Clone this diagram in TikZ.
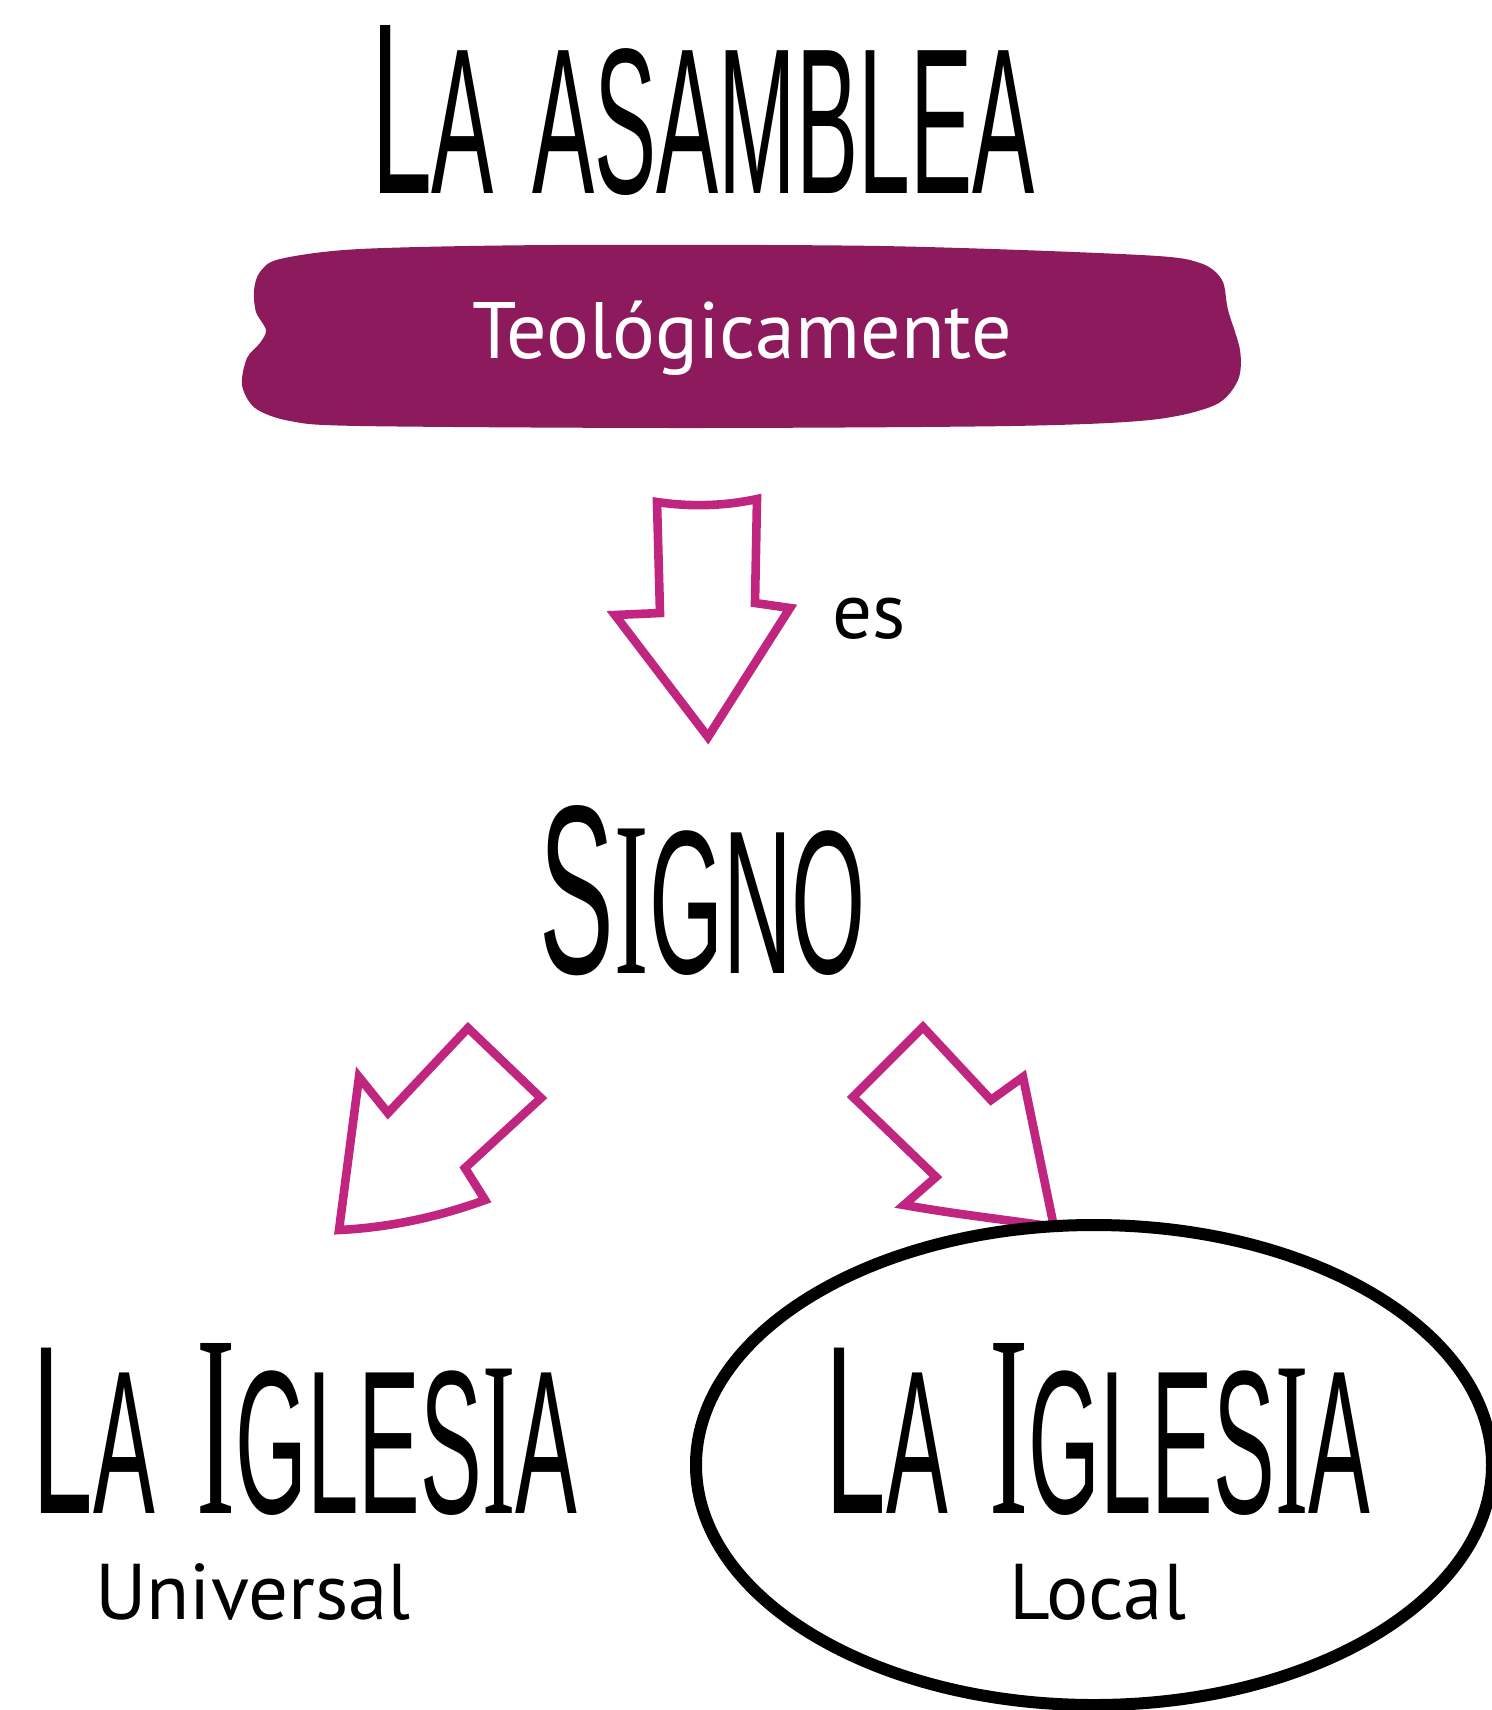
\documentclass[tikz,border=0pt]{standalone}
\usepackage{fontspec}
\setmainfont{PT Sans}
\newfontfamily\handfont{Liberation Sans}
\newfontfamily\handserif{Liberation Serif}
\usepackage{xcolor}
\usepackage{graphicx}
\usetikzlibrary{positioning}
\definecolor{banner}{HTML}{8C1A5C}
\definecolor{arrowpink}{HTML}{C0267F}
\newcommand{\handcaps}[2]{{\fontsize{40}{40}\selectfont #1}{\fontsize{34}{34}\selectfont #2}}
\newcommand{\bigI}{{\handserif\fontsize{43.2}{43.2}\selectfont I}}
\newcommand{\smallI}{{\handserif\fontsize{36.7}{36.7}\selectfont I}}

\begin{document}
\begin{tikzpicture}[
  x=0.5pt, y=-0.5pt,
  hand/.style={inner sep=0pt, font=\handfont},
  sub/.style={inner sep=0pt, font=\fontsize{39.5}{39.5}\selectfont},
  blockarrow/.style={draw=arrowpink, line width=4.3pt, fill=white, line join=miter}
]
\path[use as bounding box, fill=white] (0,0) rectangle (1492,1710);
% title and banner
\node[hand] (title) at (703,110) {\resizebox{332pt}{84pt}{\handcaps{L}{A\hspace{14pt}ASAMBLEA}}};
\fill[banner] plot[smooth cycle, tension=0.5] coordinates {
  (254,290) (260,272) (280,259) (360,249) (555,245) (881,246) (1141,255) (1200,263)
  (1222,280) (1228,310) (1240,350) (1238,380) (1215,405) (1150,420) (1011,426) (685,428)
  (360,426) (290,421) (255,408) (242,385) (247,358) (260,343) (266,330) (256,312)};
\node[anchor=base, text=white, inner sep=0pt, font=\fontsize{40}{40}\selectfont] (teo) at (742,358) {Teológicamente};
% es
\draw[blockarrow] (657,502) .. controls (690,507) and (725,506) .. (757,499) -- (755,603) -- (790,608)
  -- (708,737) -- (615,615) -- (660,613) -- cycle;
\node[anchor=base, inner sep=0pt, font=\fontsize{39.5}{39.5}\selectfont] (es) at (869,638) {es};
\node[hand] (signo) at (703,891) {\resizebox{163pt}{84pt}{\handcaps{S}{\smallI GNO}}};
% two ways
\draw[blockarrow] (339,1230) -- (359,1077) -- (388,1113) -- (468,1028) -- (541,1098) -- (465,1168)
  -- (485,1200) .. controls (430,1220) and (380,1228) .. cycle;
\draw[blockarrow] (923,1027) -- (853,1097) -- (936,1177) -- (904,1205)
  .. controls (960,1215) and (1010,1220) .. (1054,1227) -- (1023,1077) -- (991,1100) -- cycle;
\node[hand] (universalchurch) at (305,1429) {\resizebox{272pt}{85pt}{\handcaps{L}{A}\hspace{15pt}\bigI\handcaps{}{GLES\smallI A}}};
\node[hand] (localchurch) at (1098,1429) {\resizebox{272pt}{85pt}{\handcaps{L}{A}\hspace{15pt}\bigI\handcaps{}{GLES\smallI A}}};
\node[sub, below=24pt of universalchurch, xshift=-26pt] (universal) {Universal};
\node[sub, below=24pt of localchurch] (local) {Local};
\draw[line width=6pt] (1094,1465) ellipse [x radius=199pt, y radius=120pt];
\end{tikzpicture}
\end{document}
